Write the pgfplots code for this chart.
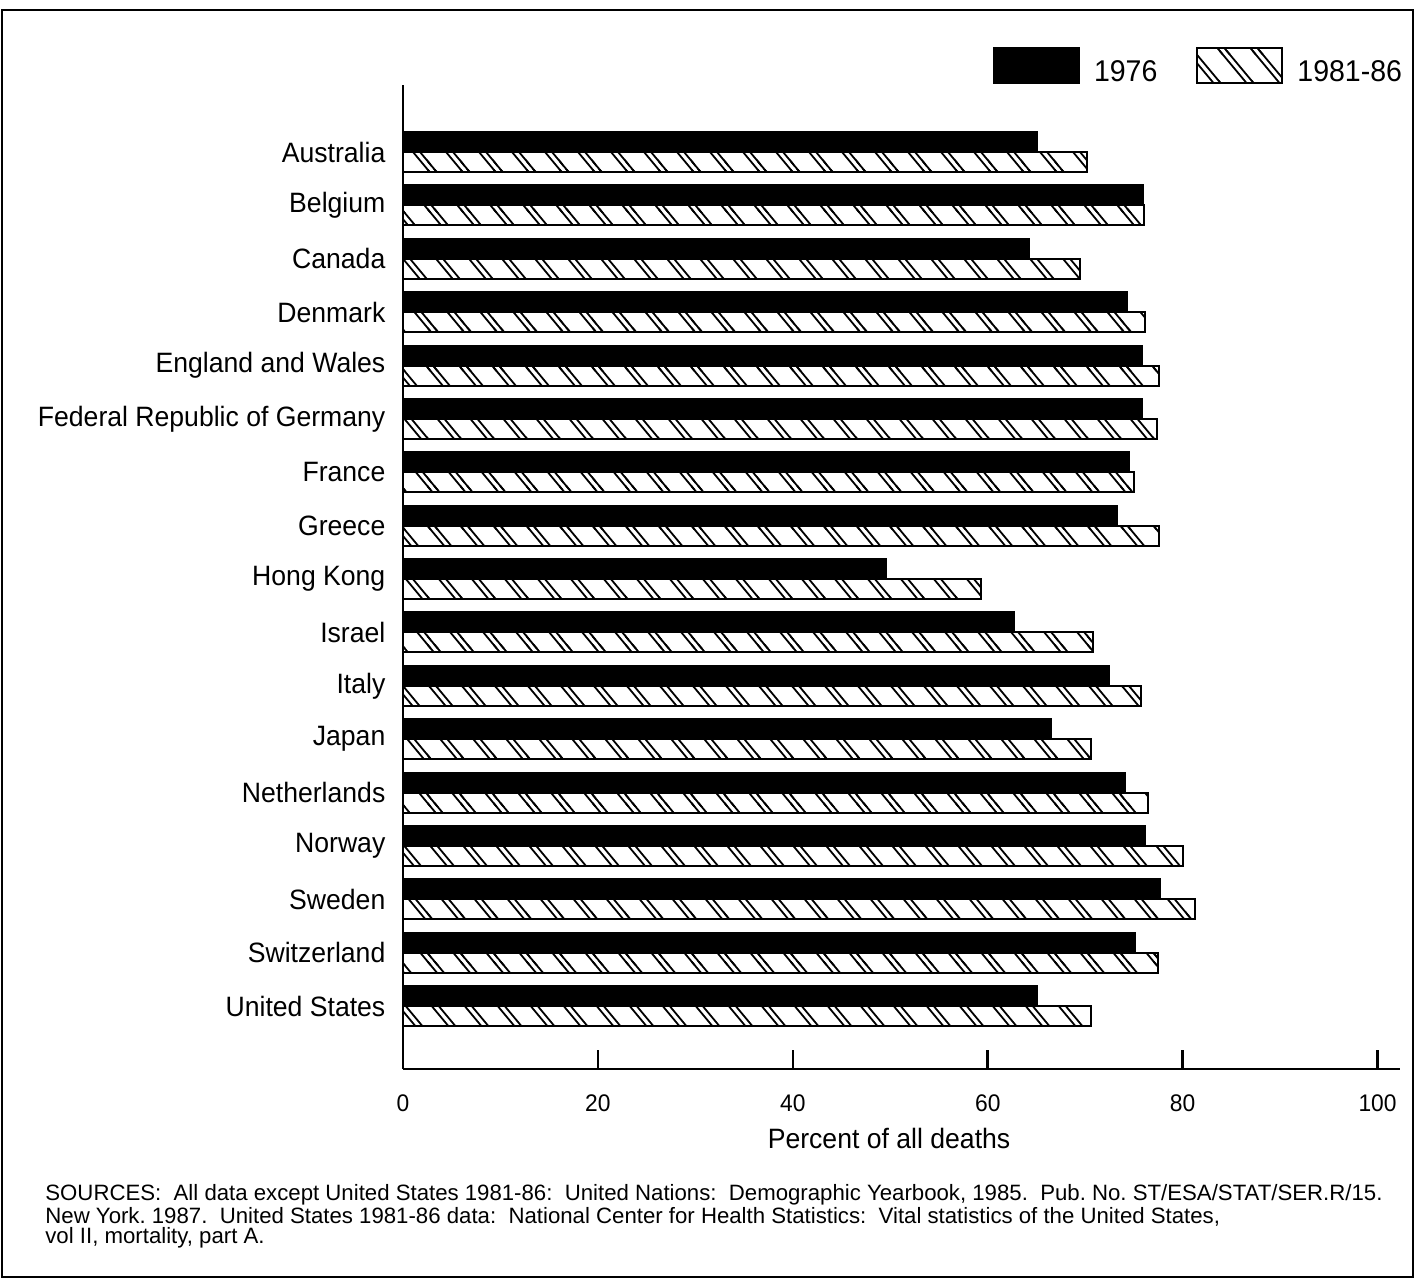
\documentclass[border=0pt]{standalone}
\usepackage{fontspec}
\setmainfont{Liberation Sans}[FakeStretch=0.95]
\newfontfamily\srcfont{Liberation Sans}
\usepackage{pgfplots}
\usepackage{pgfplotstable}
\pgfplotsset{compat=1.18}
\usetikzlibrary{patterns}

% double diagonal hatch (lines from upper left to lower right)
\pgfdeclarepatternformonly{dblhatch}{\pgfqpoint{-1pt}{-1pt}}{\pgfqpoint{17.5pt}{20.8pt}}{\pgfqpoint{16.5pt}{19.8pt}}{%
  \pgfsetlinewidth{0.9pt}%
  \pgfpathmoveto{\pgfqpoint{-1pt}{21.0pt}}\pgfpathlineto{\pgfqpoint{17.5pt}{-1.2pt}}%
  \pgfpathmoveto{\pgfqpoint{2.5pt}{21.0pt}}\pgfpathlineto{\pgfqpoint{21.0pt}{-1.2pt}}%
  \pgfpathmoveto{\pgfqpoint{-14pt}{21.0pt}}\pgfpathlineto{\pgfqpoint{4.5pt}{-1.2pt}}%
  \pgfusepath{stroke}%
}

\pgfplotstableread{
idx a b
0 65.1 70.2
1 75.9 76.0
2 64.2 69.5
3 74.3 76.1
4 75.8 77.6
5 75.8 77.4
6 74.5 75.0
7 73.3 77.6
8 49.6 59.3
9 62.7 70.8
10 72.4 75.7
11 66.5 70.6
12 74.1 76.4
13 76.1 80.0
14 77.7 81.3
15 75.1 77.5
16 65.1 70.6
}\datatable

\begin{document}
\begin{tikzpicture}
\useasboundingbox (0pt,0pt) rectangle (707.5pt,-640pt);
\draw[line width=1pt] (1pt,-5pt) rectangle (706.5pt,-638.5pt);
\begin{axis}[
  at={(201.5pt,-534.5pt)}, anchor=south west,
  scale only axis, width=498.5pt, height=492pt,
  xbar, bar width=10pt,
  xmin=0, xmax=102.3,
  ymin=-1.255, ymax=17.18, y dir=reverse,
  ytick={0,...,16},
  yticklabels={Australia,Belgium,Canada,Denmark,England and Wales,Federal Republic of Germany,France,Greece,Hong Kong,Israel,Italy,Japan,Netherlands,Norway,Sweden,Switzerland,United States},
  xtick={0,20,40,60,80,100},
  xticklabels={0,20,40,60,80,100},
  axis lines=left, axis line style={-, line width=1.2pt},
  tick align=inside, major tick length=9.5pt,
  xtick style={line width=1.3pt, black},
  ytick style={draw=none},
  xticklabel style={font=\fontsize{12}{14}\selectfont, yshift=-9.5pt},
  yticklabel style={font=\fontsize{14}{16}\selectfont, xshift=-5.3pt},
  xlabel={Percent of all deaths},
  xlabel style={at={(axis description cs:0.4875,0)}, anchor=base, yshift=-39.5pt, font=\fontsize{14}{16}\selectfont},
  legend columns=-1,
  legend style={at={(axis description cs:0.5918,1.001)}, anchor=south west, draw=none, fill=none, inner sep=0pt, outer sep=0pt,
    font=\fontsize{15}{16}\selectfont, nodes={inner sep=0pt},
    /tikz/every odd column/.append style={column sep=7pt},
    /tikz/every even column/.append style={column sep=19.5pt}},
]
\addplot[fill=black, draw=black, line width=1pt, bar shift=5pt,
  legend image code/.code={\draw[fill=black,draw=black,line width=1pt] (0pt,-5.5pt) rectangle (42.5pt,12pt);}]
  table[x=a, y=idx] {\datatable};
\addlegendentry{1976}
\addplot[pattern=dblhatch, draw=black, line width=1pt, bar shift=-5pt,
  legend image code/.code={\draw[pattern=dblhatch,draw=black,line width=1pt] (0pt,-5.5pt) rectangle (42.5pt,12pt);}]
  table[x=b, y=idx] {\datatable};
\addlegendentry{1981-86}
\end{axis}
\node[anchor=base west, align=left, inner sep=0pt, font=\srcfont\fontsize{11.1}{10}\selectfont\frenchspacing] at (22.5pt,-621.5pt)
 {SOURCES:~~All data except United States 1981-86:~~United Nations:~~Demographic Yearbook, 1985.~~Pub. No. ST/ESA/STAT/SER.R/15.\\
  New York. 1987.~~United States 1981-86 data:~~National Center for Health Statistics:~~Vital statistics of the United States,\\
  vol II, mortality, part A.};
\end{tikzpicture}
\end{document}
